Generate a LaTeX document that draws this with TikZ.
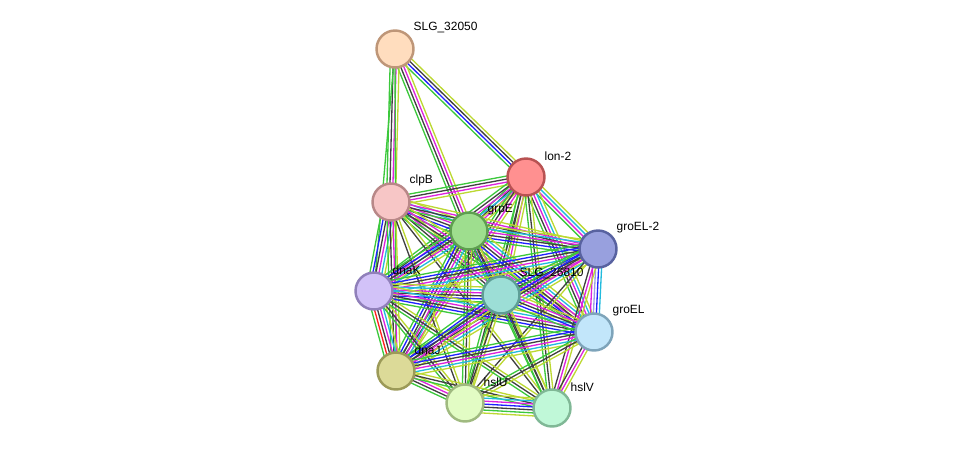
\documentclass[tikz,border=0pt]{standalone}
\usepackage{fontspec}
\setmainfont{Liberation Sans}
\usetikzlibrary{calc,backgrounds}

% evidence channel colours
\definecolor{evnb}{HTML}{3CC83C}
\definecolor{evfu}{HTML}{FF2020}
\definecolor{evco}{HTML}{2020FF}
\definecolor{evcx}{HTML}{404040}
\definecolor{evex}{HTML}{DD22DD}
\definecolor{evdb}{HTML}{22BBDD}
\definecolor{evtm}{HTML}{BCD832}
\definecolor{evho}{HTML}{9C9CE6}

% one bundle of parallel lines between two nodes
\newcommand\evidenceedge[3]{%
  \foreach \c [count=\k] in #3 {\xdef\bundlesize{\k}}%
  \foreach \c [count=\k] in #3 {
    \pgfmathsetmacro\off{(\k-(\bundlesize+1)/2)*1.7}
    \draw[\c, line width=0.75pt]
      ($(#1)!\off pt!90:(#2)$) -- ($(#2)!\off pt!-90:(#1)$);
  }}

\begin{document}
\begin{tikzpicture}[
  x=0.02cm, y=-0.02cm,
  prot/.style={
    circle, line width=1.4pt, minimum size=0.74cm, inner sep=0pt
  },
  plabel/.style={
    font=\fontsize{6.8}{8}\selectfont, inner sep=0.5pt, xshift=0.07cm, yshift=0.02cm
  }
]
\useasboundingbox (0,0) rectangle (976,454);

% Proteins
\node[prot, fill={rgb,255:red,255;green,221;blue,190}, draw={rgb,255:red,190;green,150;blue,120},
  label={[plabel]45:SLG\_32050}] (s32) at (395,49) {};
\node[prot, fill={rgb,255:red,255;green,144;blue,144}, draw={rgb,255:red,184;green,82;blue,82},
  label={[plabel]45:lon-2}] (lon) at (526,177) {};
\node[prot, fill={rgb,255:red,247;green,198;blue,198}, draw={rgb,255:red,184;green,136;blue,136},
  label={[plabel]45:clpB}] (clpB) at (391,202) {};
\node[prot, fill={rgb,255:red,158;green,222;blue,142}, draw={rgb,255:red,94;green,158;blue,80},
  label={[plabel]45:grpE}] (grpE) at (469,231) {};
\node[prot, fill={rgb,255:red,152;green,160;blue,222}, draw={rgb,255:red,88;green,98;blue,160},
  label={[plabel]45:groEL-2}] (groELb) at (598,249) {};
\node[prot, fill={rgb,255:red,210;green,194;blue,248}, draw={rgb,255:red,144;green,128;blue,186},
  label={[plabel]45:dnaK}] (dnaK) at (374,291) {};
\node[prot, fill={rgb,255:red,156;green,222;blue,214}, draw={rgb,255:red,94;green,158;blue,150},
  label={[plabel]45:SLG\_26810}] (s26) at (501,295) {};
\node[prot, fill={rgb,255:red,194;green,230;blue,250}, draw={rgb,255:red,126;green,164;blue,186},
  label={[plabel]45:groEL}] (groEL) at (594,332) {};
\node[prot, fill={rgb,255:red,220;green,218;blue,152}, draw={rgb,255:red,156;green,154;blue,88},
  label={[plabel]45:dnaJ}] (dnaJ) at (396,371) {};
\node[prot, fill={rgb,255:red,226;green,252;blue,196}, draw={rgb,255:red,160;green,186;blue,128},
  label={[plabel]45:hslU}] (hslU) at (465,403) {};
\node[prot, fill={rgb,255:red,192;green,248;blue,216}, draw={rgb,255:red,128;green,184;blue,150},
  label={[plabel]45:hslV}] (hslV) at (552,408) {};

% Interactions, behind the proteins
\begin{pgfonlayer}{background}
\foreach \a/\b/\cs in {
  s32/lon/{evnb,evco,evcx,evtm},
  s32/grpE/{evnb,evcx,evex,evtm},
  s32/clpB/{evnb,evcx,evex,evtm},
  s32/dnaK/{evnb},
  s32/dnaJ/{evnb},
  lon/clpB/{evnb,evcx,evex,evtm},
  lon/grpE/{evnb,evcx,evex,evtm},
  lon/groELb/{evnb,evex,evdb,evtm},
  lon/dnaK/{evnb,evcx,evex,evdb,evtm},
  lon/s26/{evnb,evcx,evex,evtm},
  lon/groEL/{evnb,evcx,evex,evdb,evtm},
  lon/dnaJ/{evnb,evcx,evex,evtm},
  lon/hslU/{evnb,evcx,evtm},
  lon/hslV/{evnb,evcx,evtm},
  clpB/grpE/{evnb,evco,evcx,evex,evdb,evtm},
  clpB/groELb/{evnb,evcx,evex,evtm},
  clpB/dnaK/{evnb,evco,evcx,evex,evdb,evtm},
  clpB/s26/{evnb,evcx,evex,evtm},
  clpB/groEL/{evnb,evcx,evex,evtm},
  clpB/dnaJ/{evnb,evcx,evex,evtm},
  clpB/hslU/{evcx,evtm},
  clpB/hslV/{evcx,evtm},
  grpE/groELb/{evnb,evco,evcx,evex,evdb,evtm},
  grpE/dnaK/{evnb,evco,evcx,evex,evdb,evtm},
  grpE/s26/{evnb,evco,evcx,evex,evtm},
  grpE/groEL/{evnb,evco,evcx,evex,evdb,evtm},
  grpE/dnaJ/{evnb,evco,evcx,evex,evdb,evtm},
  grpE/hslU/{evnb,evcx,evtm},
  grpE/hslV/{evnb,evcx,evtm},
  groELb/dnaK/{evnb,evco,evcx,evex,evdb,evtm},
  groELb/s26/{evnb,evco,evcx,evex,evtm},
  groELb/groEL/{evex,evho,evco,evdb},
  groELb/dnaJ/{evnb,evco,evcx,evex,evdb,evtm},
  groELb/hslU/{evcx,evtm},
  groELb/hslV/{evcx,evex,evtm},
  dnaK/s26/{evnb,evco,evcx,evex,evdb,evtm},
  dnaK/groEL/{evnb,evco,evcx,evex,evdb,evtm},
  dnaK/dnaJ/{evnb,evfu,evcx,evex,evdb,evtm},
  dnaK/hslU/{evnb,evcx,evtm},
  dnaK/hslV/{evnb,evcx,evtm},
  s26/groEL/{evnb,evco,evcx,evex,evtm},
  s26/dnaJ/{evnb,evco,evcx,evex,evtm},
  s26/hslU/{evnb,evcx,evtm},
  s26/hslV/{evnb,evcx,evtm},
  groEL/dnaJ/{evnb,evco,evcx,evex,evdb,evtm},
  groEL/hslU/{evnb,evcx,evtm},
  groEL/hslV/{evcx,evex,evtm},
  dnaJ/hslU/{evnb,evcx,evex,evtm},
  dnaJ/hslV/{evnb,evcx,evtm},
  hslU/hslV/{evtm,evnb,evcx,evco,evex,evdb,evtm}} {
  \evidenceedge{\a}{\b}{\cs}
}
\end{pgfonlayer}

\end{tikzpicture}
\end{document}
